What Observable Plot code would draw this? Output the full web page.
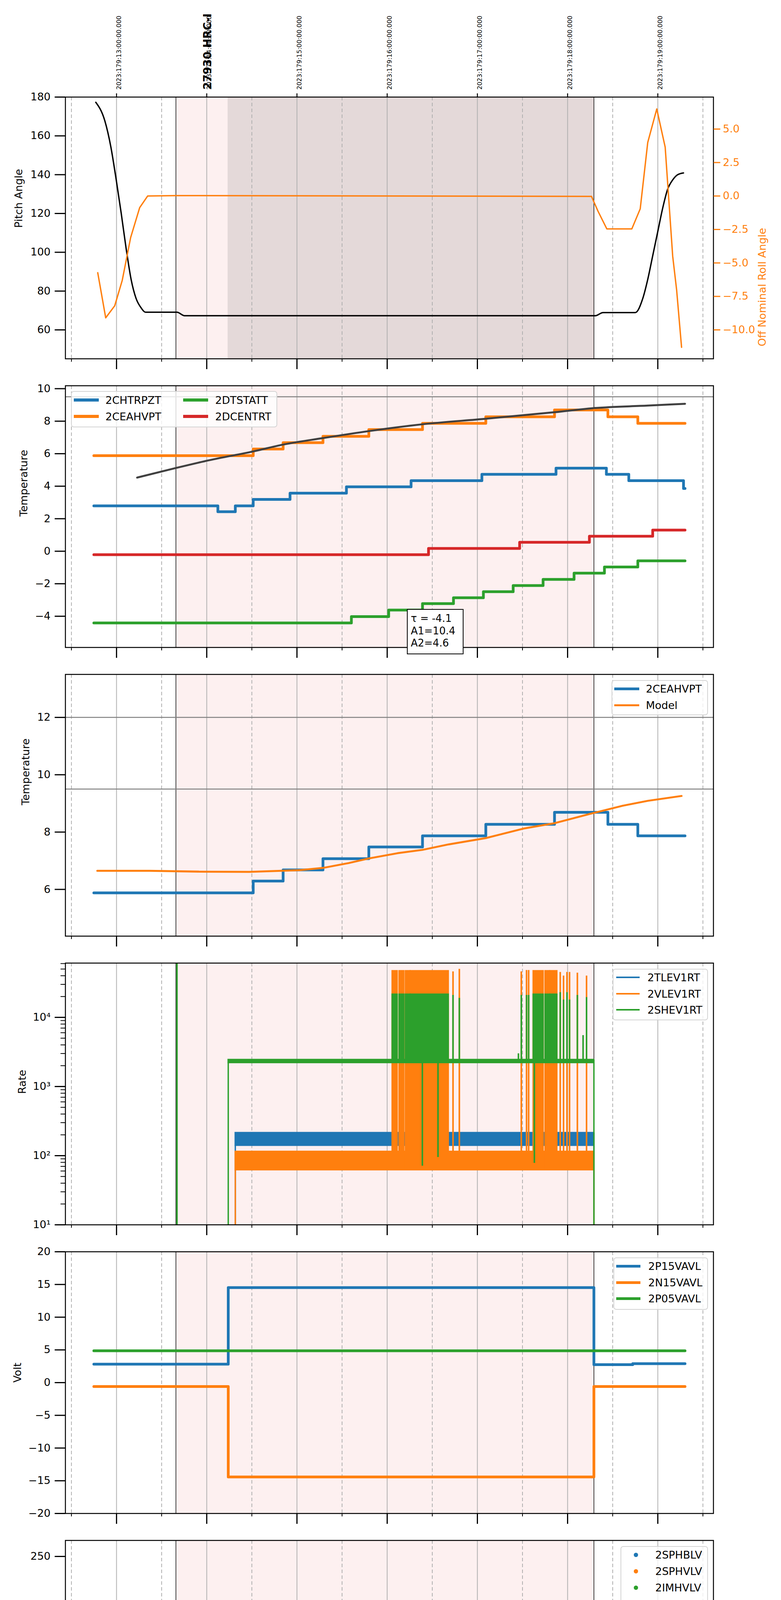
<!DOCTYPE html>
<html>
<head>
<meta charset="utf-8">
<script src="https://cdn.jsdelivr.net/npm/d3@7"></script>
<script src="https://cdn.jsdelivr.net/npm/@observablehq/plot@0.6"></script>
<style>
  html, body { margin: 0; padding: 0; background: #fff; }
  #chart { position: relative; width: 2000px; font-family: "DejaVu Sans", sans-serif; color: #000; background: #fff; }
  #chart > svg.flow { display: block; position: relative; }
  #chart > svg.over { position: absolute; left: 0; top: 0; }
  .legend { position: absolute; box-sizing: border-box; background: rgba(255,255,255,0.8); border: 2px solid #d4d4d4; border-radius: 7px; }
  .lg-item { position: absolute; font-size: 27px; line-height: 1; white-space: nowrap; transform: translateY(-50%); }
  .lg-mark { position: absolute; }
  .annot { position: absolute; box-sizing: border-box; background: #fff; border: 2.5px solid #000; font-size: 26px; line-height: 31.5px; padding: 7px 0 0 8px; white-space: pre; }
</style>
</head>
<body>
<div id="chart"></div>
<script>
// ---------------- shared time data ----------------
const timeDomain = ["08:26.0", "15:37.0"];
const hourTicks = [9, 10, 11, 12, 13, 14, 15];
const halfTicks = [8.5, 9.5, 10.5, 11.5, 12.5, 13.5, 14.5, 15.5];
const utcHourLabels = ["2023:179:13:00:00.000","2023:179:14:00:00.000","2023:179:15:00:00.000","2023:179:16:00:00.000","2023:179:17:00:00.000","2023:179:18:00:00.000","2023:179:19:00:00.000"];
const obsSpan = ["09:39.5", "14:17.5"];
const slewEndTime = "10:14.0";
const obsLabel = "27930 HRC-I";
const dateLabel = "2023-06-28 (179)";

// ---------------- panel 1: pitch / roll ----------------
const pitchTime = ["08:46.2","08:52.2","08:56.2","08:59.8","09:03.1","09:06.4","09:09.7","09:13.0","09:16.4","09:19.3","09:40.2","09:45.2","14:18.5","14:23.5","14:45.0","14:50.0","14:53.3","14:56.6","14:59.9","15:03.2","15:06.5","15:09.9","15:13.2","15:17.1"];
const pitchAngle = [177.3,167.8,154.4,137.3,120.2,101.9,86.0,76.2,71.3,69.1,69.1,67.3,67.3,68.9,68.9,76.2,86.0,98.2,110.4,122.6,132.4,137.3,140.0,140.9];
const rollTime = ["08:47.5","08:52.8","08:58.8","09:03.8","09:09.4","09:15.4","09:20.7","09:39.5","14:15.9","14:20.2","14:26.1","14:42.7","14:48.3","14:53.3","14:59.3","15:04.9","15:09.9","15:12.5","15:15.8"];
const rollAngle = [-5.73,-9.1,-8.2,-6.3,-3.1,-0.87,0.0,0.03,-0.03,-1.13,-2.46,-2.46,-0.96,4.0,6.5,3.65,-4.5,-7.0,-11.3];
const pitchTicks = [60,80,100,120,140,160,180];
const rollTicks = [-10,-7.5,-5,-2.5,0,2.5,5];

// ---------------- panel 2: temperatures ----------------
const tempSeries = ["2CHTRPZT","2CEAHVPT","2DTSTATT","2DCENTRT"];
const chtrpztTime = ["08:44.9","10:07.4","10:19.0","10:30.9","10:55.4","11:32.9","12:15.9","13:03.0","13:52.3","14:25.8","14:40.7","15:17.1","15:18.1"];
const chtrpztValue = [2.79,2.43,2.79,3.19,3.57,3.96,4.34,4.73,5.11,4.73,4.34,3.86,3.86];
const ceahvptTime = ["08:44.9","10:30.9","10:50.8","11:17.3","11:47.8","12:23.5","13:05.6","13:51.3","14:26.8","14:46.7","15:18.1"];
const ceahvptValue = [5.88,6.29,6.68,7.07,7.48,7.87,8.27,8.69,8.27,7.87,7.87];
const dtstattTime = ["08:44.9","11:36.2","12:01.0","12:23.5","12:44.1","13:04.0","13:23.8","13:43.7","14:04.3","14:24.5","14:46.7","15:18.1"];
const dtstattValue = [-4.41,-4.02,-3.62,-3.22,-2.86,-2.49,-2.11,-1.73,-1.35,-0.97,-0.59,-0.59];
const dcentrtTime = ["08:44.9","12:27.5","13:28.1","14:14.5","14:56.6","15:18.1"];
const dcentrtValue = [-0.21,0.17,0.55,0.92,1.30,1.30];
const fitTime = ["09:13.7","09:38.6","10:01.7","10:30.9","10:50.8","11:17.3","11:47.8","12:23.5","13:05.6","13:51.3","14:16.8","14:53.3","15:18.1"];
const fitValue = [4.53,5.10,5.60,6.14,6.56,6.96,7.39,7.81,8.15,8.55,8.80,8.96,9.07];
const fitText = "\u03c4 = -4.1\nA1=10.4\nA2=4.6";
const tempLimit = [9.5];
const tempTicks = [-4,-2,0,2,4,6,8,10];

// ---------------- panel 3: model ----------------
const modelSeries = ["2CEAHVPT","Model"];
const modelTime = ["08:47.2","09:22.0","09:55.1","10:28.3","11:01.4","11:17.3","11:34.5","11:47.8","12:07.6","12:23.5","12:40.8","13:05.6","13:30.5","13:51.3","14:16.8","14:36.7","14:53.3","15:15.8"];
const modelValue = [6.65,6.65,6.62,6.61,6.67,6.75,6.92,7.08,7.27,7.38,7.57,7.79,8.12,8.31,8.66,8.92,9.09,9.26];
const modelLimits = [12, 9.5];
const modelTicks = [6,8,10,12];

// ---------------- panel 4: rates ----------------
const rateSeries = ["2TLEV1RT","2VLEV1RT","2SHEV1RT"];
const rateOn = ["10:19.0","10:19.0","10:14.3"];
const rateOff = ["14:17.5","14:17.5","14:17.5"];
const rateLow = [140, 62, 2200];
const rateHigh = [215, 115, 2450];
const flareStart = ["12:03.5","12:08.1","12:12.3","12:15.6","13:37.3","13:45.2","13:48.5"];
const flareEnd = ["12:06.7","12:11.1","12:15.2","12:40.7","13:43.8","13:48.0","13:52.9"];
const flareVlevBurstPeak = 48000;
const flareShevBurstPeak = 22000;
const flareSpikeTime = ["12:43.8","12:48.0","13:29.2","13:32.7","13:34.1","13:55.1","13:57.3","13:59.6","14:01.3","14:06.5","14:12.6"];
const flareVlevPeak = [46000,50000,46000,48000,48000,45000,40000,45000,45000,44000,40000];
const flareShevPeak = [21000,19000,21000,21000,21000,23000,18000,23000,18000,21000,19500];
const shevDropTime = ["12:23.4","12:33.8","13:37.9"];
const shevDropValue = [71, 95, 78];
const shevBlipTime = ["13:27.3","14:10.3"];
const shevBlipValue = [3000, 5500];
const shevTurnOnSpike = ["09:40.2"];
const rateMajorTicks = [10, 100, 1000, 10000];
const rateMinorTicks = [20,30,40,50,60,70,80,90,200,300,400,500,600,700,800,900,2000,3000,4000,5000,6000,7000,8000,9000,20000,30000,40000,50000,60000];

// ---------------- panel 5: voltages ----------------
const voltSeries = ["2P15VAVL","2N15VAVL","2P05VAVL"];
const p15Time = ["08:44.9","10:14.3","14:17.5","14:43.3","15:18.1"];
const p15Value = [2.82,14.52,2.75,2.9,2.9];
const n15Time = ["08:44.9","10:14.3","14:17.5","15:18.1"];
const n15Value = [-0.6,-14.42,-0.6,-0.6];
const p05Time = ["08:44.9","15:18.1"];
const p05Value = [4.87,4.87];
const voltTicks = [-20,-15,-10,-5,0,5,10,15,20];

// ---------------- panel 6: HV monitor ----------------
const hvSeries = ["2SPHBLV","2SPHVLV","2IMHVLV","2IMHBLV"];
const hvOn = "10:19.0", hvOff = "14:17.5";
const imhvlvLevel = 79.3, imhblvLevel = 86.5;
const imhvlvTransTime = ["10:15.3","10:16.0","10:16.7","10:17.3","10:18.0","10:18.6"];
const imhvlvTransValue = [100, 96, 91, 87, 83, 80];
const imhblvTransTime = ["10:15.3","10:15.3","10:15.7","10:15.7","10:16.0","10:16.7","10:17.0","10:17.7","10:18.0","10:18.3"];
const imhblvTransValue = [127.1,125.5,119.1,106.2,105.0,101.3,96.7,92.9,89.9,88.0];
const imhvlvOutTime = ["12:15.9","12:17.6","12:19.2","12:20.9","12:22.5","12:24.2","13:37.8","13:47.0","13:51.7","14:01.3","14:06.9"];
const imhvlvOutValue = [127.1,127.1,127.1,127.1,127.1,127.1,127.1,127.1,127.1,127.1,127.1];
const imhblvOutTime = ["12:15.9","12:17.6","12:19.2","12:20.9","12:22.5","12:24.2","12:25.9","12:37.4","13:37.8","13:47.0","13:51.7","14:01.3","14:06.9"];
const imhblvOutValue = [79.3,79.3,79.3,79.3,79.3,79.3,79.3,80.5,79.3,79.3,79.3,79.3,79.3];
const hvTicks = [0,50,100,150,200,250];

// ---------------- panel 7: detector temps ----------------
const detSeries = ["2SPINATM","2SPHVATM","2IMINATM","2IMHVATM"];
const spinatmTime = ["10:14.0","10:14.3","12:03.5","13:50.8","14:17.5","14:17.8"];
const spinatmValue = [-5,2.8,3.25,3.7,-5,-5];
const sphvatmTime = ["10:14.0","10:14.3","10:15.2","10:49.8","11:23.9","11:56.0","12:40.9","12:58.4","13:28.5","14:15.8","14:17.5","14:17.8"];
const sphvatmValue = [-5,15.27,15.03,15.27,15.54,15.85,16.14,16.44,16.72,17.0,-5,-5];
const iminatmTime = ["10:14.0","10:14.3","10:54.1","12:42.6","13:53.6","14:17.5","14:17.8"];
const iminatmValue = [-5,0.66,1.08,1.52,1.93,-5,-5];
const imhvatmTime = ["10:14.0","10:14.3","10:21.6","10:31.6","10:36.5","10:43.2","10:50.8","11:00.4","11:12.0","11:27.9","11:42.8","12:00.0","12:25.4","12:57.0","13:28.5","14:08.8","14:17.5","14:43.9","14:44.0","14:44.2","15:18.1"];
const imhvatmValue = [-5,14.43,14.73,14.97,15.18,15.54,15.87,16.14,16.42,16.72,16.99,17.29,17.57,17.86,18.15,18.45,-5,-5,25,-5,-5];
// bursts: [start, end, low, high]
const spinatmBursts = [["12:02.9","12:09.7",-5,3.25],["12:12.0","12:22.6",-5,3.25],["12:25.0","12:41.2",-5,3.25],["12:48.0","12:48.0",-5,3.25],
  ["13:28.5","13:29.9",-5,3.25],["13:32.7","13:34.1",-5,3.25],["13:36.8","13:48.0",-5,3.25],["13:49.8","13:53.1",-5,3.7],["13:58.7","14:01.9",-5,3.7],["14:06.1","14:07.5",-5,3.7]];
const sphvatmBursts = [["12:03.1","12:06.9",10.3,15.85],["12:07.5","12:10.2",10.3,15.85],["12:11.9","12:16.0",10.3,15.85],["12:16.0","12:40.9",10.57,16.14],["12:43.2","12:43.2",10.57,16.14],["12:48.0","12:48.0",10.57,16.14],
  ["12:23.6","12:23.6",-5,16.0],["12:33.8","12:33.8",-5,16.0],
  ["13:28.5","13:29.9",10.9,16.72],["13:32.7","13:34.1",10.9,16.72],["13:36.8","13:43.8",10.9,16.72],["13:44.8","13:48.0",10.9,16.72],["13:49.8","13:53.1",10.9,16.72],["13:58.7","14:01.9",10.9,16.72],["14:06.1","14:07.5",10.9,16.72],["13:37.9","13:37.9",-5,16.72]];
const iminatmBursts = [["12:02.9","12:06.6",1.07,3.3],["12:07.5","12:09.7",1.07,3.3],["12:12.0","12:41.2",1.07,3.3],["12:43.2","12:43.2",1.5,3.3],["12:48.0","12:48.0",1.5,3.3],["12:33.8","12:33.8",-5,3.3],
  ["13:28.5","13:29.9",1.5,3.3],["13:32.7","13:34.1",1.5,3.3],["13:36.8","13:43.8",1.5,3.3],["13:44.8","13:48.0",1.5,3.3],["13:49.8","13:53.1",1.5,3.3],["13:58.7","14:01.9",1.93,3.7],["14:06.1","14:07.5",1.93,3.7]];
const imhvatmBursts = [["12:03.1","12:06.9",15.84,17.29],["12:07.5","12:10.2",15.84,17.29],["12:11.9","12:25.4",15.84,17.29],["12:25.4","12:40.9",16.1,17.57],["12:43.2","12:43.2",16.1,17.57],["12:48.0","12:48.0",16.1,17.57],
  ["12:23.6","12:23.6",10.63,17.29],["12:33.8","12:33.8",10.63,17.57],
  ["13:28.5","13:29.9",16.44,18.15],["13:32.7","13:34.1",16.44,18.15],["13:36.8","13:43.8",16.44,18.15],["13:44.8","13:48.0",16.44,18.15],["13:49.8","13:53.1",16.44,18.15],["13:58.7","14:01.9",16.44,18.15],["14:06.1","14:07.5",16.44,18.15],["13:37.9","13:37.9",11.16,18.15]];
const detTicks = [0,2.5,5,7.5,10,12.5,15,17.5];

// ---------------- panel 8: FEA temps ----------------
const feaSeries = ["2FHTRMZT","2FRADPYT","2FEPRATM","2FE00ATM"];
const fhtrmztTime = ["08:44.9","09:40.5","10:32.3","10:42.5","10:44.4","10:44.7","10:52.1","11:01.2","11:11.7","11:21.6","11:27.9","11:28.2","11:31.8","11:42.7","11:53.6","11:53.9","12:04.0","12:14.1","12:40.5","12:53.2","13:06.0","13:20.0","13:20.3","13:34.2","13:48.4","14:02.8","14:18.8","14:32.5","14:50.0","15:04.9","15:18.1"];
const fhtrmztValue = [-7.58,-7.97,-7.56,-7.18,-5.57,-7.18,-6.79,-6.38,-5.99,-5.59,-5.18,-5.59,-5.20,-4.81,-5.61,-4.45,-4.03,-3.63,-2.90,-2.51,-2.12,-0.23,-1.74,-1.35,-1.00,-0.62,-0.25,-0.60,-0.98,-1.36,-1.36];
const fradpytTime = ["08:44.9","08:57.6","09:17.7","09:28.4","09:44.5","10:33.7","10:44.4","10:54.2","11:05.2","11:16.1","11:27.0","11:38.7","11:50.7","12:03.1","12:15.5","12:29.0","12:42.3","12:56.3","13:10.9","13:25.7","13:43.9","13:57.0","14:12.5","14:35.5","14:51.6","15:02.2","15:16.5","15:18.1"];
const fradpytValue = [-9.65,-9.23,-9.65,-10.04,-10.6,-10.04,-9.63,-9.22,-8.81,-8.41,-7.99,-7.59,-7.18,-6.79,-6.38,-5.99,-5.59,-5.20,-4.81,-4.43,-4.03,-3.65,-3.26,-3.65,-4.02,-4.41,-4.05,-4.05];
const fepratmTime = ["10:14.0","10:15.6","10:17.6","10:20.7","10:23.8","10:27.4","10:32.9","10:40.2","10:47.5","10:55.7","11:05.7","11:14.8","11:24.9","11:36.2","11:48.2","11:59.5","12:12.0","12:30.0","12:41.0","12:53.2","13:09.6","13:25.1","13:48.8","13:57.9","14:17.5"];
const fepratmValue = [-11,-6.64,-6.21,-5.81,-5.46,-5.02,-4.62,-4.23,-3.84,-3.41,-3.03,-2.64,-2.23,-1.84,-1.43,-1.05,-0.62,-0.25,0.29,0.63,1.06,1.51,2.00,2.35,2.45];
const fe00atmTime = ["10:14.0","10:14.3","10:22.9","10:29.4","10:29.8","10:32.0","10:32.4","10:37.5","10:43.8","10:50.6","10:57.5","10:57.8","11:04.8","11:05.1","11:12.5","11:20.3","11:28.5","11:36.7","11:45.8","11:54.0","11:58.6","11:58.9","12:04.0","12:41.4","12:43.9","12:51.4","12:51.7","12:54.1","13:04.2","13:14.6","13:25.5","13:35.0","13:50.0","14:07.0","14:17.5","14:43.9","14:44.0","14:44.2","15:18.1"];
const fe00atmValue = [-11,-5.98,-5.58,-6.05,-5.24,-6.4,-5.24,-4.86,-4.52,-4.15,-3.07,-3.80,-4.58,-3.46,-3.14,-2.77,-2.45,-2.11,-1.80,-1.45,-2.14,-1.45,-1.09,-0.14,0.07,1.45,0.07,0.54,0.80,1.10,1.40,1.75,2.05,2.35,-11,-11,20,-11,-11];
const fepratmBursts = [["12:03.1","12:07.7",-4.66,-0.9],["12:11.3","12:40.5",-4.66,-0.3],["12:43.2","12:43.2",-4.66,0.29],["12:48.1","12:48.1",-4.66,0.29],
  ["13:28.7","13:28.7",-4.66,1.51],["13:32.8","13:32.8",-4.66,1.51],["13:37.9","13:37.9",-4.66,1.6],["13:40.6","13:40.6",-4.66,1.6],["13:43.3","13:43.3",-4.66,1.7],["13:46.1","13:46.1",-4.66,1.8],["13:51.5","13:51.5",-4.66,2.0],["13:59.7","13:59.7",-4.66,2.35],["14:01.5","14:01.5",-4.66,2.35],["14:06.6","14:06.6",-4.66,2.35]];
const fe00atmBursts = [["12:03.1","12:41.4",-0.88,4],["12:43.2","12:43.2",0,4],["12:48.1","12:48.1",0,4],["12:23.5","12:23.5",-11,-0.5],["12:33.7","12:33.7",-11,-0.5],
  ["13:27.9","13:29.5",1.4,4],["13:32.2","13:33.4",1.5,4],["13:35.9","13:49.7",1.75,4],["13:52.5","13:54.5",2.0,4],["13:57.8","14:01.0",2.05,4],["14:04.0","14:07.0",2.2,4],["13:37.9","13:37.9",-11,1.75]];
const feaTicks = [-10,-8,-6,-4,-2,0,2];

// ---------------- helpers ----------------
const C = {blue: "#1f77b4", orange: "#ff7f0e", green: "#2ca02c", red: "#d62728"};
const T = s => { const [h, m] = s.split(":"); return +h + (+m) / 60; };
const minus = d => String(d).replace("-", "\u2212");
const series = (times, values) => times.map((t, i) => ({t: T(t), v: values[i]}));
const chart = document.getElementById("chart");
const FRAME_L = 167, FRAME_R = 1826.5, FRAME_H = 670;

function stepLine(times, values, stroke, strokeWidth, curve = "step-after") {
  return Plot.line(series(times, values), {x: "t", y: "v", curve, stroke, strokeWidth, clip: true});
}
function burstMarks(rows, color, w) {
  return [
    Plot.rect(rows.filter(r => r[0] !== r[1]), {x1: r => T(r[0]), x2: r => T(r[1]), y1: r => r[2], y2: r => r[3], fill: color, insetLeft: -w / 2, insetRight: -w / 2, clip: true}),
    Plot.ruleX(rows.filter(r => r[0] === r[1]), {x: r => T(r[0]), y1: r => r[2], y2: r => r[3], stroke: color, strokeWidth: w, clip: true})
  ];
}
function backdrop(dark) {
  const m = [Plot.rect([{a: T(obsSpan[0]), b: T(obsSpan[1])}], {x1: "a", x2: "b", fill: "#fdf0f0"})];
  if (dark) m.push(Plot.rect([{a: T(slewEndTime), b: T(obsSpan[1])}], {x1: "a", x2: "b", fill: "#e4d9d9"}));
  m.push(Plot.ruleX(hourTicks, {stroke: "#b0b0b0", strokeWidth: 2}));
  m.push(Plot.ruleX(halfTicks, {stroke: "#b0b0b0", strokeWidth: 2, strokeDasharray: "9,6"}));
  m.push(Plot.ruleX(obsSpan.map(T), {stroke: "#000", strokeWidth: 1.5}));
  return m;
}
function xAxes(labels) {
  return [
    Plot.axisX({ticks: hourTicks, tickSize: 27, strokeWidth: 3, tickPadding: 13, fontSize: 27, label: null,
      tickFormat: labels ? h => String(h).padStart(2, "0") + "h" : () => ""}),
    Plot.axisX({ticks: halfTicks, tickSize: 8, strokeWidth: 2, tickPadding: 1, fontSize: 17, label: null,
      tickFormat: labels ? () => "30" : () => ""})
  ];
}
const yAxis = (ticks, fmt = d => minus(d)) => Plot.axisY({ticks, tickFormat: fmt, tickSize: 27, tickPadding: 11, strokeWidth: 3, fontSize: 27, label: null});
const yLabel = (text, x) => Plot.text([text], {text: d => d, frameAnchor: "left", dx: x - FRAME_L, rotate: -90, fontSize: 27});
const frame = () => Plot.frame({stroke: "#000", strokeWidth: 2.5});

// each panel svg is stacked in normal flow; frame tops land at 248 + 739*k
function panel({mt = 20, mb = 49, x = {}, y, marks, color = "#000", overlay = false}) {
  const svg = Plot.plot({
    width: 2000, height: mt + FRAME_H + mb,
    marginTop: mt, marginBottom: mb, marginLeft: FRAME_L, marginRight: 2000 - FRAME_R,
    x: {domain: timeDomain.map(T), ...x}, y,
    style: {background: "transparent", overflow: "visible", fontFamily: "'DejaVu Sans', sans-serif", fontSize: "27px", color, maxWidth: "none"},
    marks
  });
  svg.classList.add(overlay ? "over" : "flow");
  chart.append(svg);
  return svg;
}
function legend(box, entries, dot = false) {
  const b = document.createElement("div");
  b.className = "legend";
  Object.assign(b.style, {left: box[0] + "px", top: box[1] + "px", width: (box[2] - box[0]) + "px", height: (box[3] - box[1]) + "px"});
  chart.append(b);
  for (const e of entries) {
    const m = document.createElement("div");
    m.className = "lg-mark";
    if (dot) Object.assign(m.style, {left: (e.sx - 5.5) + "px", top: (e.y - 5.5) + "px", width: "11px", height: "11px", borderRadius: "50%", background: e.color});
    else Object.assign(m.style, {left: e.sx + "px", top: (e.y - e.w / 2) + "px", width: (e.len || 64) + "px", height: e.w + "px", background: e.color});
    const t = document.createElement("div");
    t.className = "lg-item";
    t.textContent = e.label;
    t.style.left = e.tx + "px";
    t.style.top = e.y + "px";
    chart.append(m, t);
  }
}

// ---------------- panel 1 ----------------
panel({
  mt: 248, y: {domain: [45.1, 180]},
  marks: [
    ...backdrop(true),
    Plot.line(series(pitchTime, pitchAngle), {x: "t", y: "v", curve: "monotone-x", stroke: "#000", strokeWidth: 3.5, clip: true}),
    Plot.axisX({anchor: "top", ticks: hourTicks, tickSize: 10, strokeWidth: 2.5, tickFormat: () => "", label: null}),
    Plot.text(hourTicks, {x: d => d, text: (d, i) => utcHourLabels[i], frameAnchor: "top", dy: -19, rotate: -90, textAnchor: "start", fontSize: 16}),
    Plot.text([obsLabel], {x: T(obsSpan[0]), text: d => d, frameAnchor: "top", dx: 71, dy: -19, rotate: -90, textAnchor: "start", fontSize: 28, fontWeight: "bold"}),
    ...xAxes(false),
    yAxis(pitchTicks, d => String(d)),
    yLabel("Pitch Angle", 48),
    frame()
  ]
});
panel({
  mt: 248, overlay: true, x: {axis: null}, y: {domain: [-12.16, 7.39]}, color: C.orange,
  marks: [
    Plot.line(series(rollTime, rollAngle), {x: "t", y: "v", stroke: C.orange, strokeWidth: 3.5, clip: true}),
    Plot.axisY({anchor: "right", ticks: rollTicks, tickFormat: d => minus(d.toFixed(1)), tickSize: 17, tickPadding: 7, strokeWidth: 3, fontSize: 27, label: null}),
    Plot.text(["Off Nominal Roll Angle"], {text: d => d, frameAnchor: "right", dx: 1952 - FRAME_R, rotate: -90, fontSize: 27, fill: C.orange})
  ]
});

// ---------------- panel 2 ----------------
panel({
  y: {domain: [-5.92, 10.18]},
  marks: [
    ...backdrop(false),
    Plot.ruleY(tempLimit, {stroke: "#808080", strokeWidth: 2.5}),
    stepLine(chtrpztTime, chtrpztValue, C.blue, 7),
    stepLine(ceahvptTime, ceahvptValue, C.orange, 7),
    stepLine(dtstattTime, dtstattValue, C.green, 7),
    stepLine(dcentrtTime, dcentrtValue, C.red, 7),
    stepLine(fitTime, fitValue, "#404040", 5, "monotone-x"),
    ...xAxes(false),
    yAxis(tempTicks),
    yLabel("Temperature", 61),
    frame()
  ]
});

// ---------------- panel 3 ----------------
panel({
  y: {domain: [4.37, 13.5]},
  marks: [
    ...backdrop(false),
    Plot.ruleY(modelLimits, {stroke: "#808080", strokeWidth: 2.5}),
    stepLine(ceahvptTime, ceahvptValue, C.blue, 7),
    stepLine(modelTime, modelValue, C.orange, 5, "linear"),
    ...xAxes(false),
    yAxis(modelTicks),
    yLabel("Temperature", 66),
    frame()
  ]
});

// ---------------- panel 4 ----------------
{
  const cols = [C.blue, C.orange, C.green];
  const band = i => Plot.rect([{a: T(rateOn[i]), b: T(rateOff[i]), lo: rateLow[i], hi: rateHigh[i]}], {x1: "a", x2: "b", y1: "lo", y2: "hi", fill: cols[i], stroke: cols[i], strokeWidth: 3, clip: true});
  const edges = i => Plot.ruleX([{t: T(rateOn[i]), v: rateLow[i]}, {t: T(rateOff[i]), v: rateHigh[i]}], {x: "t", y1: 1, y2: "v", stroke: cols[i], strokeWidth: 3.5, clip: true});
  const flares = flareStart.map((s, i) => ({a: T(s), b: T(flareEnd[i])}));
  const spikes = flareSpikeTime.map((t, i) => ({t: T(t), vl: flareVlevPeak[i], sh: flareShevPeak[i]}));
  panel({
    y: {type: "log", domain: [10, 60950]},
    marks: [
      ...backdrop(false),
      Plot.ruleX(shevTurnOnSpike.map(T), {y1: 1, y2: 1e6, stroke: C.green, strokeWidth: 4, clip: true}),
      edges(0), band(0),
      edges(1), band(1),
      Plot.rect(flares, {x1: "a", x2: "b", y1: rateLow[1], y2: flareVlevBurstPeak, fill: C.orange, insetLeft: -2, insetRight: -2, clip: true}),
      Plot.ruleX(spikes, {x: "t", y1: rateLow[1], y2: "vl", stroke: C.orange, strokeWidth: 4, clip: true}),
      edges(2), band(2),
      Plot.rect(flares, {x1: "a", x2: "b", y1: rateLow[2], y2: flareShevBurstPeak, fill: C.green, insetLeft: -2, insetRight: -2, clip: true}),
      Plot.ruleX(spikes, {x: "t", y1: rateLow[2], y2: "sh", stroke: C.green, strokeWidth: 4, clip: true}),
      Plot.ruleX(series(shevDropTime, shevDropValue), {x: "t", y1: rateLow[2], y2: "v", stroke: C.green, strokeWidth: 4, clip: true}),
      Plot.ruleX(series(shevBlipTime, shevBlipValue), {x: "t", y1: rateHigh[2], y2: "v", stroke: C.green, strokeWidth: 4, clip: true}),
      ...xAxes(false),
      yAxis(rateMajorTicks, d => "10" + "\u2070\u00b9\u00b2\u00b3\u2074"[Math.round(Math.log10(d))]),
      Plot.axisY({ticks: rateMinorTicks, tickSize: 12, strokeWidth: 2, tickFormat: () => "", label: null}),
      yLabel("Rate", 57),
      frame()
    ]
  });
}

// ---------------- panel 5 ----------------
panel({
  y: {domain: [-20, 20]},
  marks: [
    ...backdrop(false),
    stepLine(p15Time, p15Value, C.blue, 7),
    stepLine(n15Time, n15Value, C.orange, 7),
    stepLine(p05Time, p05Value, C.green, 7),
    ...xAxes(false),
    yAxis(voltTicks),
    yLabel("Volt", 45),
    frame()
  ]
});

// ---------------- panel 6 ----------------
panel({
  y: {domain: [0, 266.3]},
  marks: [
    ...backdrop(false),
    Plot.line([{t: T(hvOn), v: imhvlvLevel}, {t: T(hvOff), v: imhvlvLevel}], {x: "t", y: "v", stroke: C.green, strokeWidth: 11}),
    Plot.dot(series(imhvlvTransTime, imhvlvTransValue), {x: "t", y: "v", r: 5.5, fill: C.green}),
    Plot.dot(series(imhvlvOutTime, imhvlvOutValue), {x: "t", y: "v", r: 5.5, fill: C.green}),
    Plot.line([{t: T(hvOn), v: imhblvLevel}, {t: T(hvOff), v: imhblvLevel}], {x: "t", y: "v", stroke: C.red, strokeWidth: 11}),
    Plot.dot(series(imhblvTransTime, imhblvTransValue), {x: "t", y: "v", r: 5.5, fill: C.red}),
    Plot.dot(series(imhblvOutTime, imhblvOutValue), {x: "t", y: "v", r: 5.5, fill: C.red}),
    ...xAxes(false),
    yAxis(hvTicks),
    yLabel("HV Monitor", 48),
    frame()
  ]
});

// ---------------- panel 7 ----------------
panel({
  y: {domain: [-0.45, 19.34]},
  marks: [
    ...backdrop(false),
    stepLine(spinatmTime, spinatmValue, C.blue, 7), ...burstMarks(spinatmBursts, C.blue, 7),
    stepLine(sphvatmTime, sphvatmValue, C.orange, 7), ...burstMarks(sphvatmBursts, C.orange, 7),
    stepLine(iminatmTime, iminatmValue, C.green, 7), ...burstMarks(iminatmBursts, C.green, 7),
    stepLine(imhvatmTime, imhvatmValue, C.red, 7), ...burstMarks(imhvatmBursts, C.red, 7),
    ...xAxes(false),
    yAxis(detTicks, d => d.toFixed(1)),
    yLabel("Detector Temp", 42),
    frame()
  ]
});

// ---------------- panel 8 ----------------
panel({
  mb: 109,
  y: {domain: [-10.33, 2.59]},
  marks: [
    ...backdrop(false),
    stepLine(fhtrmztTime, fhtrmztValue, C.blue, 7),
    stepLine(fradpytTime, fradpytValue, C.orange, 7),
    stepLine(fepratmTime, fepratmValue, C.green, 7), ...burstMarks(fepratmBursts, C.green, 7),
    stepLine(fe00atmTime, fe00atmValue, C.red, 7), ...burstMarks(fe00atmBursts, C.red, 7),
    ...xAxes(true),
    yAxis(feaTicks),
    yLabel("FEA Temp", 45),
    Plot.text([dateLabel], {text: d => d, frameAnchor: "bottom", dy: 89, fontSize: 32}),
    frame()
  ]
});

// ---------------- legends & annotation ----------------
const L = (labels, colors, sx, tx, ys, w, len) => labels.map((label, i) => ({label, color: colors[i], sx: sx[i] ?? sx[0], tx: tx[i] ?? tx[0], y: ys[i], w: Array.isArray(w) ? w[i] : w, len}));
legend([182, 1001, 710, 1094], L(tempSeries, [C.blue, C.orange, C.green, C.red], [189, 189, 469, 469], [270, 270, 551, 551], [1024, 1066, 1024, 1066], 8));
legend([1566, 1741, 1813, 1831], L(modelSeries, [C.blue, C.orange], [1573], [1654], [1763, 1805], [7, 5]));
legend([1569, 2480, 1813, 2612], L(rateSeries, [C.blue, C.orange, C.green], [1578], [1658], [2502, 2544, 2585], 4, 60));
legend([1571, 3219, 1813, 3353], L(voltSeries, [C.blue, C.orange, C.green], [1578], [1660], [3241, 3283, 3324], 7, 62));
legend([1589, 3958, 1813, 4131], L(hvSeries, [C.blue, C.orange, C.green, C.red], [1628], [1678], [3980, 4022, 4064, 4106], 0), true);
legend([182, 4695, 430, 4871], L(detSeries, [C.blue, C.orange, C.green, C.red], [189], [270], [4719, 4760, 4802, 4844], 7));
legend([182, 5435, 432, 5610], L(feaSeries, [C.blue, C.orange, C.green, C.red], [189], [270], [5457, 5499, 5541, 5583], 7));

const ann = document.createElement("div");
ann.className = "annot";
Object.assign(ann.style, {left: "1042px", top: "1559px", width: "145px", height: "116px"});
ann.textContent = fitText;
chart.append(ann);
</script>
</body>
</html>
